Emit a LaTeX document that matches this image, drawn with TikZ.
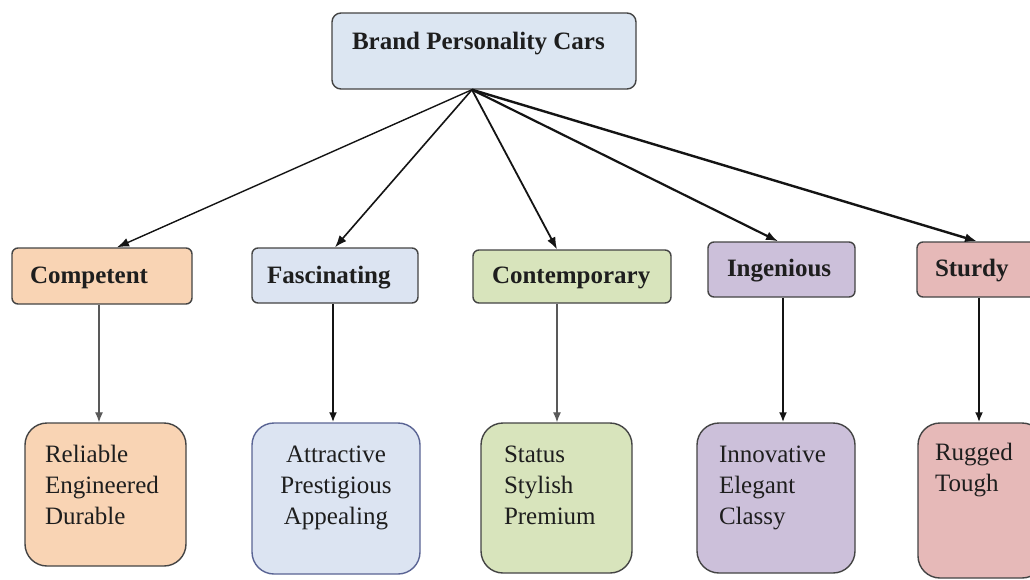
\documentclass[tikz,border=0pt]{standalone}
\usepackage{fontspec}
\setmainfont{Liberation Serif}
\usetikzlibrary{arrows.meta}

\definecolor{skyfill}{HTML}{DCE6F2}
\definecolor{peachfill}{HTML}{F9D4B4}
\definecolor{bluefill}{HTML}{DCE4F2}
\definecolor{greenfill}{HTML}{D8E4BC}
\definecolor{lilacfill}{HTML}{CCC0DA}
\definecolor{rosefill}{HTML}{E6B9B8}
\definecolor{edge}{HTML}{444444}
\definecolor{blueedge}{HTML}{5A6494}
\definecolor{ink}{HTML}{1E1E1E}

% text inside a box of given width/height: #3 alignment, #4 first baseline from top
\newcommand\boxtext[5]{\parbox[c][#2][t]{#1}{#3\rule{0pt}{#4}#5}}
\newcommand\padleft[1]{\raggedright\leftskip=#1\relax}

\tikzset{
  headbox/.style={draw=edge, line width=1.4pt, rounded corners=9pt, inner sep=0pt,
    text=ink, font=\fontsize{25}{30}\selectfont\bfseries},
  traitbox/.style={draw=edge, line width=1.4pt, rounded corners=6pt, inner sep=0pt,
    text=ink, font=\fontsize{25}{30}\selectfont\bfseries},
  wordbox/.style={draw=edge, line width=1.4pt, rounded corners=22pt, inner sep=0pt,
    text=ink, font=\fontsize{25}{31}\selectfont},
  fan/.style={-{Latex[length=12pt,width=9pt]}, draw=black!92},
  drop/.style={-{Latex[length=10pt,width=8pt]}, draw=black!92, line width=2.2pt},
  thindrop/.style={-{Latex[length=10pt,width=8pt]}, draw=black!65, line width=1.3pt},
}

\begin{document}
\begin{tikzpicture}[x=1pt, y=-1pt]
  \fill[white] (0,0) rectangle (1030,579);
  \useasboundingbox (0,0) rectangle (1030,579);

  % root
  \node[headbox, fill=skyfill] (top) at (484,51)
    {\boxtext{304pt}{76pt}{\padleft{20pt}}{36pt}{Brand Personality Cars}};

  % personality traits
  \node[traitbox, fill=peachfill] (comp) at (102,276)
    {\boxtext{180pt}{56pt}{\padleft{18pt}}{35pt}{Competent}};
  \node[traitbox, fill=bluefill] (fasc) at (335,275.5)
    {\boxtext{166pt}{55pt}{\padleft{15pt}}{35pt}{Fascinating}};
  \node[traitbox, fill=greenfill] (cont) at (572,276.5)
    {\boxtext{198pt}{53pt}{\padleft{19pt}}{33pt}{Contemporary}};
  \node[traitbox, fill=lilacfill] (inge) at (781.5,269.5)
    {\boxtext{147pt}{55pt}{\padleft{19pt}}{34pt}{Ingenious}};
  \node[traitbox, fill=rosefill] (stur) at (981,269.5)
    {\boxtext{128pt}{55pt}{\padleft{18pt}}{34pt}{Sturdy}};

  % descriptive words
  \node[wordbox, fill=peachfill] (rel) at (105.5,494.5)
    {\boxtext{161pt}{143pt}{\padleft{20pt}}{39pt}{Reliable\\Engineered\\Durable}};
  \node[wordbox, fill=bluefill, draw=blueedge] (attr) at (336,498.5)
    {\boxtext{168pt}{151pt}{\centering}{39pt}{Attractive\\Prestigious\\Appealing}};
  \node[wordbox, fill=greenfill] (stat) at (556.5,498)
    {\boxtext{151pt}{150pt}{\padleft{23pt}}{39pt}{Status\\Stylish\\Premium}};
  \node[wordbox, fill=lilacfill] (inno) at (776,498)
    {\boxtext{158pt}{150pt}{\padleft{22pt}}{39pt}{Innovative\\Elegant\\Classy}};
  \node[wordbox, fill=rosefill] (rugg) at (981,500.5)
    {\boxtext{126pt}{155pt}{\padleft{17pt}}{37pt}{Rugged\\Tough}};

  % fan of arrows from the root
  \coordinate (hub) at ([xshift=-12pt]top.south);
  \draw[fan, line width=1.4pt] (hub) -- ([xshift=15pt]comp.north);
  \draw[fan, line width=1.6pt] (hub) -- (fasc.north);
  \draw[fan, line width=1.8pt] (hub) -- ([xshift=-15pt]cont.north);
  \draw[fan, line width=2.2pt] (hub) -- ([xshift=-3.5pt]inge.north);
  \draw[fan, line width=2.4pt] (hub) -- ([xshift=-4pt]stur.north);

  % trait to words
  \draw[thindrop] ([xshift=-3pt]comp.south) -- ([xshift=-3pt]comp.south |- rel.north);
  \draw[drop] ([xshift=-2pt]fasc.south) -- ([xshift=-2pt]fasc.south |- attr.north);
  \draw[thindrop] ([xshift=-15pt]cont.south) -- ([xshift=-15pt]cont.south |- stat.north);
  \draw[drop] ([xshift=1.5pt]inge.south) -- ([xshift=1.5pt]inge.south |- inno.north);
  \draw[drop] ([xshift=-2pt]stur.south) -- ([xshift=-2pt]stur.south |- rugg.north);
\end{tikzpicture}
\end{document}
